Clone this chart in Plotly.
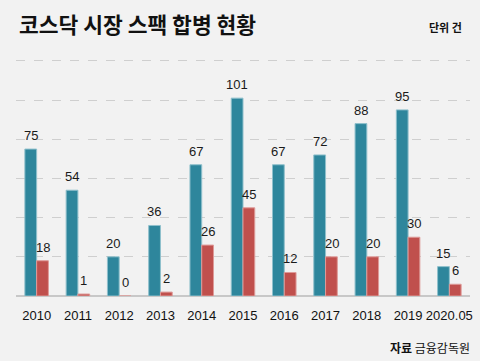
import plotly.graph_objects as go

categories = ["2010", "2011", "2012", "2013", "2014", "2015", "2016", "2017", "2018", "2019", "2020.05"]
series_a = [75, 54, 20, 36, 67, 101, 67, 72, 88, 95, 15]
series_b = [18, 1, 0, 2, 26, 45, 12, 20, 20, 30, 6]

NUM = "Liberation Sans Narrow, Arial Narrow, Liberation Sans, sans-serif"
KR = "Noto Sans CJK KR, sans-serif"
COL_A = "#2E869C"
COL_B = "#C0504D"

fig = go.Figure()
fig.add_trace(go.Bar(
    x=categories, y=series_a, name="A",
    marker=dict(color=COL_A, line=dict(color="#8FC0CC", width=1)),
))
fig.add_trace(go.Bar(
    x=categories, y=series_b, name="B",
    marker=dict(color=COL_B, line=dict(color="#DE9A98", width=1)),
))

annotations = []
for i, (va, vb) in enumerate(zip(series_a, series_b)):
    for v, dx in ((va, -6), (vb, 6)):
        annotations.append(dict(
            x=i, y=v, xref="x", yref="y", text=str(v), showarrow=False,
            xanchor="center", yanchor="bottom", xshift=dx, yshift=4,
            font=dict(family=NUM, size=13, color="#1A1A1A"),
        ))

annotations += [
    dict(text="<b>코스닥 시장 스팩 합병 현황</b>", xref="paper", yref="paper",
         x=0, y=1, xshift=1, yshift=34, xanchor="left", yanchor="middle",
         showarrow=False, font=dict(family=KR, size=21.5, color="#111111")),
    dict(text="<b>단위 건</b>", xref="paper", yref="paper",
         x=1, y=1, xshift=-6, yshift=30, xanchor="right", yanchor="middle",
         showarrow=False, font=dict(family=KR, size=11, color="#111111")),
    dict(text="<b>자료</b> 금융감독원", xref="paper", yref="paper",
         x=1, y=0, xshift=2, yshift=-51, xanchor="right", yanchor="middle",
         showarrow=False, font=dict(family=KR, size=12, color="#111111")),
]

fig.update_layout(
    width=480, height=361,
    margin=dict(l=16, r=10, t=57, b=65),
    paper_bgcolor="#F2F2F2", plot_bgcolor="#F2F2F2",
    barmode="group", bargap=0.43, bargroupgap=0,
    showlegend=False,
    xaxis=dict(
        type="category", showgrid=False, ticks="", showline=False,
        range=[-0.5, len(categories) - 0.5],
        tickangle=0, automargin=False, ticklabelstandoff=10,
        tickfont=dict(family=NUM, size=13, color="#111111"),
    ),
    yaxis=dict(
        range=[0, 122], tickvals=[20, 40, 60, 80, 100, 120], showticklabels=False,
        showgrid=True, gridcolor="#CFCFCF", griddash="dash", gridwidth=1,
        zeroline=True, zerolinecolor="#C8C8C8", zerolinewidth=1.5,
    ),
    annotations=annotations,
)

fig.write_html(
    "out.html",
    config={"displayModeBar": False},
    post_script="document.body.style.margin='0';document.body.style.padding='0';document.body.style.overflow='hidden';",
)
